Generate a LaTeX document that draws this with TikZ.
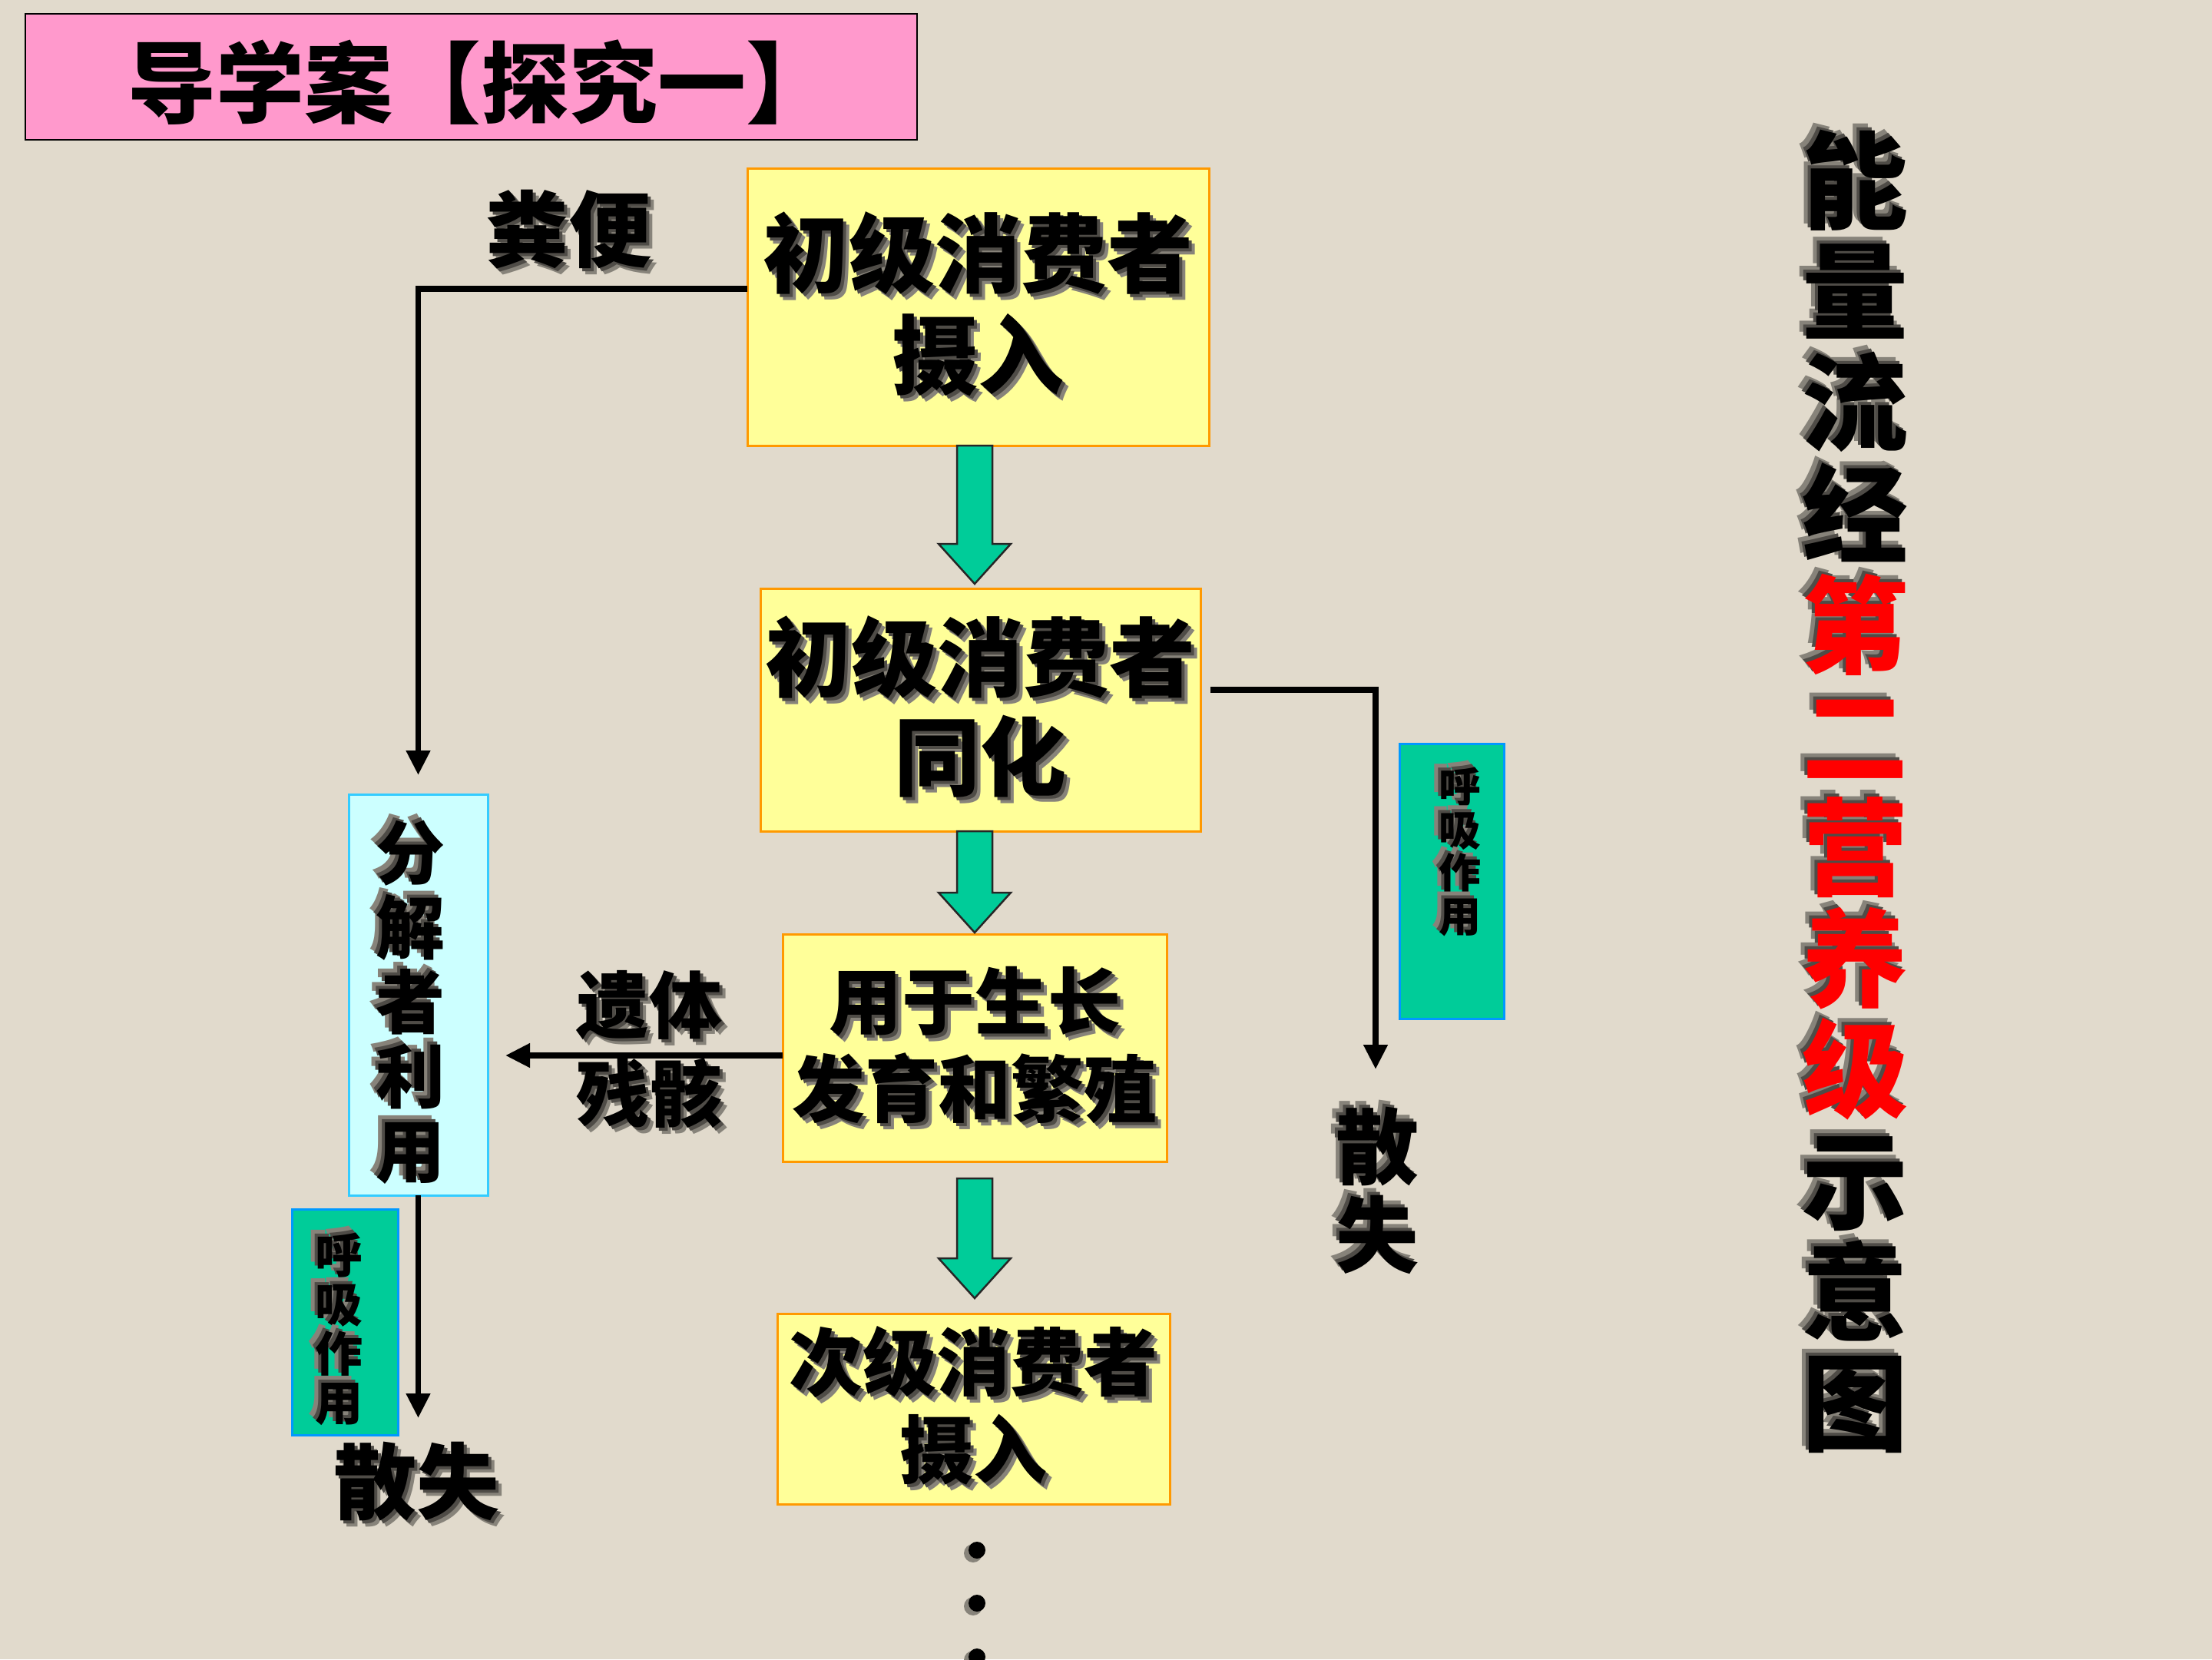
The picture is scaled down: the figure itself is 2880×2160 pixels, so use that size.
\documentclass[tikz,border=0pt]{standalone}
\usepackage{fontspec}
\newfontfamily\cjk{Noto Sans CJK SC}
\usetikzlibrary{arrows.meta,calc}
\definecolor{bg}{RGB}{225,218,204}
\colorlet{shA}{black!40!bg}
\colorlet{shB}{black!65!bg}
\definecolor{boxfill}{RGB}{255,255,153}
\definecolor{boxdraw}{RGB}{255,153,0}
\definecolor{pinkfill}{RGB}{255,153,204}
\definecolor{cyanfill}{RGB}{204,255,255}
\definecolor{cyandraw}{RGB}{51,204,255}
\definecolor{greenfill}{RGB}{0,204,153}
\definecolor{greendraw}{RGB}{0,153,255}
\definecolor{tred}{RGB}{255,0,0}
\lineskiplimit=-1000pt
% soft shadow: two layered copies, offset right-down (shd) or left-up (shu)
\newcommand\shlayer[3]{\rlap{\kern#1\raisebox{#2}{\textcolor{#3}{\shtxt}}}}
\newcommand\shd[2][black]{\def\shtxt{#2}\shlayer{8pt}{-8pt}{shA}\shlayer{4pt}{-4pt}{shB}\textcolor{#1}{#2}}
\newcommand\shu[2][black]{\def\shtxt{#2}\shlayer{-9pt}{9pt}{shA}\shlayer{-4pt}{4pt}{shB}\textcolor{#1}{#2}}
\newcommand\garrow[4]{\draw[garr] let \p1=(#1), \p2=(#2), \p3=(b3.center) in
  (\x3-23pt,\y1-#3) -- (\x3+23pt,\y1-#3) -- (\x3+23pt,\y2+#4+52pt) -- (\x3+47pt,\y2+#4+52pt)
  -- (\x3,\y2+#4) -- (\x3-47pt,\y2+#4+52pt) -- (\x3-23pt,\y2+#4+52pt) -- cycle;}
\begin{document}
\begin{tikzpicture}[x=1pt,y=-1pt,
  every node/.style={inner sep=0pt, outer sep=0pt},
  fnt/.style args={#1/#2}{font=\cjk\bfseries\fontsize{#1}{#2}\selectfont, align=center},
  ybox/.style={draw=boxdraw, fill=boxfill, line width=3pt},
  cbox/.style={draw=cyandraw, fill=cyanfill, line width=3pt},
  gbox/.style={draw=greendraw, fill=greenfill, line width=3pt},
  conn/.style={line width=7.5pt, -{Triangle[width=30pt,length=32pt]}},
  garr/.style={fill=greenfill, draw=black!85, line width=2.5pt, line join=miter},
]
\fill[bg] (0,0) rectangle (2880,2160);
\useasboundingbox (0,0) rectangle (2880,2160);

% title box
\node[draw=black, line width=2.5pt, fill=pinkfill, minimum width=1161pt, minimum height=164pt] (tbox) at (613.5,100) {};
\node[fnt=115/120] (title) at (626,107) {导学案【探究一】};

% main boxes
\node[ybox, minimum width=601pt, minimum height=361pt, fnt=112/132] (b1) at (1273.5,399.5) {\shd{初级消费者}\\\shd{摄入}};
\node[ybox, minimum width=573pt, minimum height=316pt, fnt=112/129] (b2) at (1276.5,924) {\shd{初级消费者}\\\shd{同化}};
\node[ybox, minimum width=500pt, minimum height=296pt, fnt=95/114] (b3) at (1269,1364) {\shd{用于生长}\\\shd{发育和繁殖}};
\node[ybox, minimum width=511pt, minimum height=248pt, fnt=96/114] (b4) at (1267.5,1834) {\shd{次级消费者}\\\shd{摄入}};

% decomposer
\node[cbox, minimum width=181pt, minimum height=522pt] (dec) at (544.5,1295) {};
\node[fnt=90/97] (dect) at (534,1300) {\shu{分}\\\shu{解}\\\shu{者}\\\shu{利}\\\shu{用}};

% respiration boxes
\node[gbox, minimum width=138pt, minimum height=294pt] (rgl) at (449,1721) {};
\node[fnt=62/64] (rglt) at (441,1726) {\shu{呼}\\\shu{吸}\\\shu{作}\\\shu{用}};
\node[gbox, minimum width=136pt, minimum height=358pt] (rgr) at (1890,1147) {};
\node[fnt=55/56] (rgrt) at (1901,1104) {\shu{呼}\\\shu{吸}\\\shu{作}\\\shu{用}};

% labels
\node[fnt=108/115] (fb) at (740,303) {\shd{粪便}};
\node[fnt=95/115] (yt) at (845,1370) {\shd{遗体}\\\shd{残骸}};
\node[fnt=108/115] (lsan) at (542,1933) {\shd{散失}};
\node[fnt=108/115] (rsan) at (1793,1545) {\shu{散}\\\shu{失}};

% vertical title
\node[fnt=138/144.7] (vt) at (2415,1026) {\shu{能}\\\shu{量}\\\shu{流}\\\shu{经}\\\shu[tred]{第}\\\shu[tred]{二}\\\shu[tred]{营}\\\shu[tred]{养}\\\shu[tred]{级}\\\shu{示}\\\shu{意}\\\shu{图}};

% dots
\foreach \i/\yy in {1/2018,2/2087,3/2157}{
  \fill[shA] (1267,\yy+4) circle (12pt);
  \node[circle, fill=black, minimum size=22pt] (d\i) at (1272,\yy) {};
}

% connectors
\coordinate (rtip) at (1791,1392);
\coordinate (ltip) at (544.5,1846);
\draw[conn] ($(b1.west)+(0,-23.5)$) -| ($(dec.north)+(0,-25)$);
\draw[conn] ($(b2.east)+(13,-26)$) -| (rtip);
\draw[conn] ($(b3.west)+(0,10)$) -- ($(dec.east |- b3.west)+(23,10)$);
\draw[conn] (dec.south) -- (ltip);

% green block arrows
\garrow{b1.south}{b2.north}{0pt}{6pt}
\garrow{b2.south}{b3.north}{0pt}{2pt}
\garrow{b3.south}{b4.north}{22pt}{20pt}
\end{tikzpicture}
\end{document}
